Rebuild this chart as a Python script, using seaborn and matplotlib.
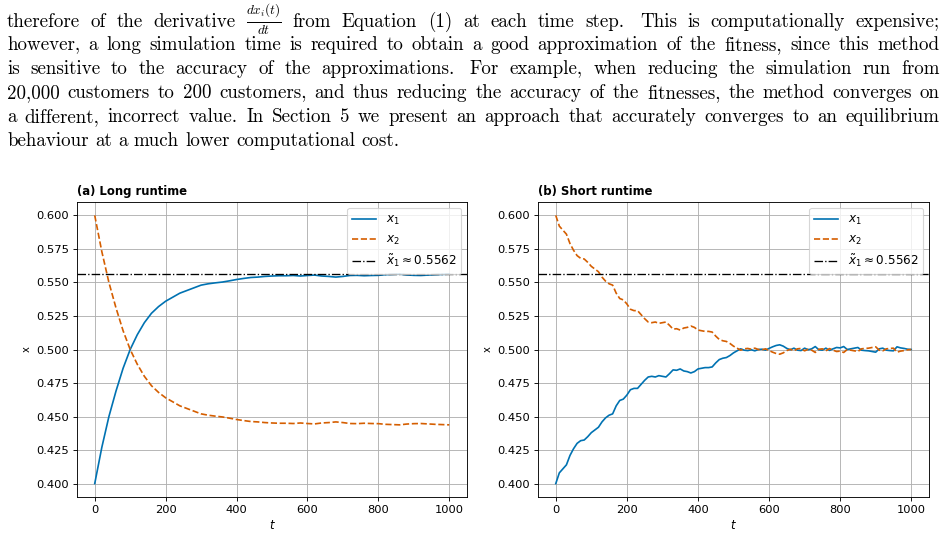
import numpy as np
import pandas as pd
import matplotlib
matplotlib.use("Agg")
import matplotlib.pyplot as plt
import seaborn as sns

# ---------------- data ----------------
long_t = list(range(0, 1001, 20))
long_x1 = [0.400, 0.427, 0.450, 0.469, 0.486, 0.500, 0.511, 0.520, 0.527, 0.532,
           0.536, 0.539, 0.542, 0.544, 0.546, 0.548, 0.549, 0.5497, 0.5503, 0.5512,
           0.5522, 0.553, 0.5537, 0.554, 0.5545, 0.5548, 0.555, 0.555, 0.5552, 0.5548,
           0.5552, 0.5555, 0.5548, 0.5545, 0.554, 0.5545, 0.5552, 0.5553, 0.555, 0.5552,
           0.5553, 0.5558, 0.556, 0.5562, 0.5556, 0.5553, 0.5552, 0.5555, 0.5558, 0.556,
           0.5562]
long_x2 = [0.600, 0.573, 0.550, 0.531, 0.514, 0.500, 0.489, 0.480, 0.473, 0.468,
           0.464, 0.461, 0.458, 0.456, 0.454, 0.452, 0.451, 0.4503, 0.4497, 0.4488,
           0.4478, 0.447, 0.4463, 0.446, 0.4455, 0.4452, 0.445, 0.445, 0.4448, 0.4452,
           0.4448, 0.4445, 0.4452, 0.4455, 0.446, 0.4455, 0.4448, 0.4447, 0.445, 0.4448,
           0.4447, 0.4442, 0.444, 0.4438, 0.4444, 0.4447, 0.4448, 0.4445, 0.4442, 0.444,
           0.4438]

short_t = list(range(0, 1001, 10))
short_x1 = [0.400, 0.408, 0.411, 0.414, 0.421, 0.426, 0.430, 0.432, 0.4325, 0.435,
            0.438, 0.440, 0.442, 0.446, 0.449, 0.451, 0.452, 0.458, 0.462, 0.463,
            0.466, 0.470, 0.471, 0.471, 0.474, 0.477, 0.4795, 0.480, 0.4795, 0.4805,
            0.480, 0.4795, 0.482, 0.4848, 0.4845, 0.4855, 0.484, 0.4835, 0.4825, 0.4835,
            0.4855, 0.486, 0.4865, 0.4865, 0.487, 0.490, 0.4925, 0.4935, 0.494, 0.4955,
            0.4975, 0.499, 0.5005, 0.4995, 0.4992, 0.4998, 0.499, 0.500, 0.5002, 0.4995,
            0.5008, 0.502, 0.503, 0.5035, 0.5025, 0.5008, 0.4998, 0.501, 0.4995, 0.4992,
            0.501, 0.4998, 0.5005, 0.5022, 0.4998, 0.4995, 0.501, 0.4993, 0.5005, 0.5015,
            0.5012, 0.5022, 0.500, 0.5005, 0.501, 0.5015, 0.4995, 0.4992, 0.499, 0.4985,
            0.498, 0.5005, 0.501, 0.4995, 0.4992, 0.499, 0.502, 0.5012, 0.5008, 0.5002,
            0.500]
short_x2 = [0.600, 0.592, 0.589, 0.586, 0.579, 0.574, 0.570, 0.568, 0.5675, 0.565,
            0.562, 0.560, 0.558, 0.554, 0.551, 0.549, 0.548, 0.542, 0.538, 0.537,
            0.534, 0.530, 0.529, 0.529, 0.526, 0.523, 0.5205, 0.520, 0.5205, 0.5195,
            0.520, 0.5205, 0.518, 0.5152, 0.5155, 0.5145, 0.516, 0.5165, 0.5175, 0.5165,
            0.5145, 0.514, 0.5135, 0.5135, 0.513, 0.510, 0.5075, 0.5065, 0.506, 0.5045,
            0.5025, 0.501, 0.4995, 0.5005, 0.5008, 0.5002, 0.501, 0.500, 0.4998, 0.5005,
            0.4992, 0.498, 0.497, 0.4965, 0.4975, 0.4992, 0.5002, 0.499, 0.5005, 0.5008,
            0.499, 0.5002, 0.4995, 0.4978, 0.5002, 0.5005, 0.499, 0.5007, 0.4995, 0.4985,
            0.4988, 0.4978, 0.500, 0.4995, 0.499, 0.4985, 0.5005, 0.5008, 0.501, 0.5015,
            0.502, 0.4995, 0.499, 0.5005, 0.5008, 0.501, 0.498, 0.4988, 0.4992, 0.4998,
            0.500]

x_tilde = 0.5562
panel_titles = ["(a) Long runtime", "(b) Short runtime"]
x_ticks = [0, 200, 400, 600, 800, 1000]
y_ticks = [0.400, 0.425, 0.450, 0.475, 0.500, 0.525, 0.550, 0.575, 0.600]

paragraph = [
    r"therefore of the derivative $\frac{dx_i(t)}{dt}$ from Equation (1) at each time step.  This is computationally expensive;",
    "however, a long simulation time is required to obtain a good approximation of the fitness, since this method",
    "is sensitive to the accuracy of the approximations.  For example, when reducing the simulation run from",
    "20,000 customers to 200 customers, and thus reducing the accuracy of the fitnesses, the method converges on",
    "a different, incorrect value. In Section 5 we present an approach that accurately converges to an equilibrium",
    "behaviour at a much lower computational cost.",
]

# ---------------- figure ----------------
W, H, DPI = 947, 537, 80
fig = plt.figure(figsize=(W / DPI, H / DPI), dpi=DPI)

BLUE = "#0072B2"
ORANGE = "#D55E00"


def px_rect(l, t, r, b):
    return [l / W, 1 - b / H, (r - l) / W, (b - t) / H]


axes = [fig.add_axes(px_rect(77, 202, 467, 497)),
        fig.add_axes(px_rect(538, 202, 929, 497))]
datasets = [(long_t, long_x1, long_x2), (short_t, short_x1, short_x2)]

for ax, (t, x1, x2), title in zip(axes, datasets, panel_titles):
    df = pd.DataFrame({"t": t, "x1": x1, "x2": x2})
    sns.lineplot(data=df, x="t", y="x1", ax=ax, color=BLUE, lw=1.5,
                 label=r"$x_1$")
    sns.lineplot(data=df, x="t", y="x2", ax=ax, color=ORANGE, lw=1.5,
                 linestyle="--", label=r"$x_2$")
    ax.axhline(x_tilde, color="black", lw=1.2, linestyle="-.",
               label=r"$\tilde{x}_1 \approx 0.5562$")
    ax.set_xlim(-50, 1050)
    ax.set_ylim(0.39, 0.61)
    ax.set_xticks(x_ticks)
    ax.set_yticks(y_ticks)
    ax.set_yticklabels([f"{v:.3f}" for v in y_ticks])
    ax.tick_params(labelsize=10.3)
    ax.grid(True, color="#b0b0b0", lw=0.8)
    ax.set_axisbelow(True)
    ax.set_xlabel(r"$t$", fontsize=10.5)
    ax.set_ylabel("x", fontsize=9)
    ax.set_title(title, loc="left", fontweight="bold", fontsize=10.5, pad=6)
    ax.legend(loc="upper right", fontsize=10.8)

# ---------------- paragraph text (justified) ----------------
fig.canvas.draw()
renderer = fig.canvas.get_renderer()

left_px, right_px = 7, 940
baselines = [26.7, 50.5, 74.2, 98.0, 121.7, 145.5]
text_kw = dict(family="cmr10", math_fontfamily="cm", va="baseline", ha="left")

# font size so that the last (unjustified) line spans ~395 px
probe = fig.text(0, 0, paragraph[-1], fontsize=10, **text_kw)
w10 = probe.get_window_extent(renderer).width
probe.remove()
fs = 10 * 395 / w10

for i, (line, yb) in enumerate(zip(paragraph, baselines)):
    words = line.split()
    objs = [fig.text(0, 1 - yb / H, w, fontsize=fs, **text_kw) for w in words]
    widths = [o.get_window_extent(renderer).width for o in objs]
    space = fs * DPI / 72 * 0.333
    weights = [1.45 if w.endswith(".") and i != 4 else 1.0 for w in words[:-1]]
    if i < len(paragraph) - 1:
        gap_unit = (right_px - left_px - sum(widths)) / sum(weights)
    else:
        gap_unit = space
    x = left_px
    for k, (o, wd) in enumerate(zip(objs, widths)):
        o.set_x(x / W)
        x += wd
        if k < len(weights):
            x += gap_unit * weights[k]

fig.savefig("out.png", dpi=DPI)
